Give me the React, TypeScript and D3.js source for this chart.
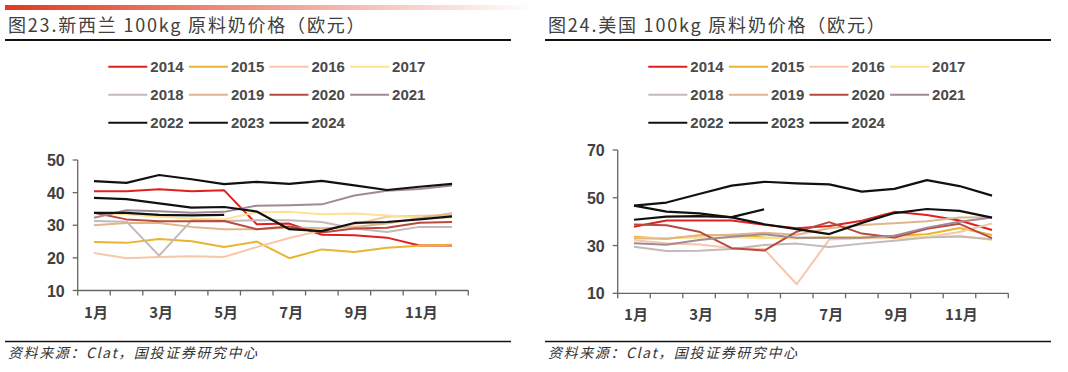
import React from 'react';
import * as d3 from 'd3';

const months = [1, 2, 3, 4, 5, 6, 7, 8, 9, 10, 11, 12];
const monthLabels = ['1月', '3月', '5月', '7月', '9月', '11月'];
const years = ['2014', '2015', '2016', '2017', '2018', '2019', '2020', '2021', '2022', '2023', '2024'];
const colors = ['#e0201e', '#e8b530', '#f8c6a8', '#fde290', '#c4b8b8', '#dfb68a', '#b84a40', '#a08a98', '#111111', '#111111', '#111111'];

// 新西兰
const nz2014 = [40.4, 40.4, 41.0, 40.4, 40.7, 30.3, 30.5, 27.1, 26.9, 26.2, 23.8, 23.8];
const nz2015 = [24.9, 24.6, 25.8, 25.1, 23.3, 25.0, 19.9, 22.6, 21.8, 23.1, 23.7, 24.0];
const nz2016 = [21.5, 19.9, 20.3, 20.5, 20.3, 23.3, 26.1, 28.4, 30.3, 32.6, 32.9, 33.1];
const nz2017 = [33.9, 33.4, 32.6, 32.1, 31.8, 34.0, 34.1, 33.4, 33.6, 33.0, 32.3, 32.4];
const nz2018 = [31.3, 31.1, 20.7, 31.5, 31.3, 31.5, 31.5, 31.0, 29.0, 27.9, 29.5, 29.5];
const nz2019 = [30.0, 30.7, 30.7, 29.5, 28.8, 28.8, 29.3, 29.1, 29.5, 30.5, 32.2, 33.7];
const nz2020 = [33.8, 31.8, 31.2, 31.2, 31.3, 28.8, 29.6, 27.8, 29.0, 29.2, 30.8, 31.0];
const nz2021 = [32.3, 34.6, 34.3, 33.8, 34.1, 36.0, 36.1, 36.4, 39.1, 40.6, 41.1, 42.2];
const nz2022 = [43.5, 43.0, 45.4, 44.1, 42.6, 43.3, 42.7, 43.6, 42.2, 40.8, 41.8, 42.7];
const nz2023 = [38.4, 38.0, 36.7, 35.4, 35.6, 34.2, 28.8, 28.2, 30.7, 31.0, 31.8, 32.7];
const nz2024 = [33.8, 33.8, 33.2, 33.0, 33.2];

// 美国
const us2014 = [37.9, 40.5, 40.5, 40.5, 38.7, 37.2, 38.2, 40.4, 44.1, 42.8, 40.5, 36.5];
const us2015 = [33.7, 32.8, 34.2, 34.5, 33.4, 33.1, 33.4, 33.5, 34.1, 34.7, 37.3, 34.4];
const us2016 = [32.2, 31.0, 30.4, 29.0, 28.5, 13.8, 32.5, 33.0, 33.2, 33.6, 35.7, 39.2];
const us2017 = [33.2, 33.2, 33.3, 33.5, 33.0, 33.2, 33.5, 33.5, 33.5, 33.6, 34.1, 32.3];
const us2018 = [29.5, 27.7, 27.8, 28.5, 30.2, 30.8, 29.4, 30.8, 32.0, 33.4, 33.8, 32.6];
const us2019 = [33.0, 32.8, 34.3, 34.5, 35.4, 34.5, 37.2, 38.6, 39.3, 40.2, 41.7, 41.8];
const us2020 = [38.8, 38.5, 35.8, 28.9, 27.9, 35.8, 39.8, 35.0, 33.4, 37.0, 39.1, 33.1];
const us2021 = [31.0, 30.3, 32.3, 33.7, 34.7, 33.3, 33.3, 33.3, 34.1, 37.5, 40.0, 41.7];
const us2022 = [46.7, 48.0, 51.6, 55.1, 56.7, 56.0, 55.6, 52.6, 53.7, 57.4, 54.9, 50.9];
const us2023 = [46.7, 44.2, 43.5, 41.8, 38.9, 36.9, 34.8, 39.5, 43.6, 45.3, 44.5, 41.7];
const us2024 = [40.8, 42.1, 42.3, 41.9, 45.2];

const nzSeries = [nz2014, nz2015, nz2016, nz2017, nz2018, nz2019, nz2020, nz2021, nz2022, nz2023, nz2024];
const usSeries = [us2014, us2015, us2016, us2017, us2018, us2019, us2020, us2021, us2022, us2023, us2024];

const cjk = '"Noto Sans CJK SC", "Liberation Sans", sans-serif';
const latin = '"Liberation Sans", Arial, sans-serif';

function Panel({ left, title, series, yDomain, yTicks, yTop, yBottom, axisX, legendX }: any) {
  const x = d3.scaleBand<number>().domain(months).range([axisX, axisX + 390.6]);
  const y = d3.scaleLinear().domain(yDomain).range([yBottom, yTop]);
  const line = d3.line<number>()
    .x((_, i) => (x(months[i]) as number) + x.bandwidth() / 2)
    .y((d) => y(d));

  return (
    <g>
      <text x={left + 3} y={32} fontFamily={cjk} fontSize={18} fill="#404040" letterSpacing={1.8}>{title}</text>
      <line x1={left} x2={left + 506} y1={40} y2={40} stroke="#111" strokeWidth={2} />

      {/* legend */}
      {years.map((yr, i) => {
        const lx = legendX + (i % 4) * 80.6;
        const ly = 66.7 + Math.floor(i / 4) * 28;
        return (
          <g key={yr}>
            <line x1={lx} x2={lx + 39} y1={ly} y2={ly} stroke={colors[i]} strokeWidth={2} />
            <text x={lx + 42} y={ly + 5.5} fontFamily={latin} fontSize={15} fontWeight="bold" fill="#4a4a4a">{yr}</text>
          </g>
        );
      })}

      {/* axes */}
      <line x1={axisX} x2={axisX} y1={yTop} y2={yBottom} stroke="#666" strokeWidth={1.3} />
      <line x1={axisX} x2={axisX + 390.6} y1={yBottom} y2={yBottom} stroke="#666" strokeWidth={1.3} />
      {yTicks.map((t: number) => (
        <g key={t}>
          <line x1={axisX - 5} x2={axisX} y1={y(t)} y2={y(t)} stroke="#666" strokeWidth={1.3} />
          <text x={axisX - 13} y={y(t) + 6} textAnchor="end" fontFamily={latin} fontSize={16} fontWeight="bold" fill="#404040">{t}</text>
        </g>
      ))}
      {d3.range(13).map((i) => (
        <line key={i} x1={axisX + i * x.step()} x2={axisX + i * x.step()} y1={yBottom} y2={yBottom + 5} stroke="#666" strokeWidth={1.3} />
      ))}
      {monthLabels.map((lb, i) => (
        <text key={lb} x={(x(months[i * 2]) as number) + x.bandwidth() / 2 + 2} y={yBottom + 27}
          textAnchor="middle" fontFamily={cjk} fontSize={15} fontWeight="bold" fill="#404040">{lb}</text>
      ))}

      {/* lines */}
      {series.map((s: number[], i: number) => (
        <path key={i} d={line(s) as string} fill="none" stroke={colors[i]} strokeWidth={i >= 8 ? 2.2 : 2} strokeLinejoin="round" />
      ))}

      <line x1={left} x2={left + 506} y1={341.5} y2={341.5} stroke="#111" strokeWidth={1.5} />
      <text x={left + 3} y={358} fontFamily={cjk} fontSize={14} fontStyle="italic" fill="#333" letterSpacing={1.6}>资料来源：Clat，国投证券研究中心</text>
    </g>
  );
}

export default function App() {
  return (
    <svg width={1068} height={372} style={{ position: 'absolute', left: 0, top: 0, background: '#fff' }}>
      <defs>
        <linearGradient id="topbar" x1="0" x2="1" y1="0" y2="0">
          <stop offset="0" stopColor="#e03a1f" />
          <stop offset="1" stopColor="#ffffff" />
        </linearGradient>
      </defs>
      <rect x={5} y={5} width={530} height={5} fill="url(#topbar)" />
      <Panel left={5} title="图23.新西兰 100kg 原料奶价格（欧元）" series={nzSeries}
        yDomain={[10, 50]} yTicks={[10, 20, 30, 40, 50]} yTop={160} yBottom={290.5}
        axisX={77.7} legendX={108.3} />
      <Panel left={545} title="图24.美国 100kg 原料奶价格（欧元）" series={usSeries}
        yDomain={[10, 70]} yTicks={[10, 30, 50, 70]} yTop={150} yBottom={293.3}
        axisX={617.7} legendX={648.3} />
    </svg>
  );
}
